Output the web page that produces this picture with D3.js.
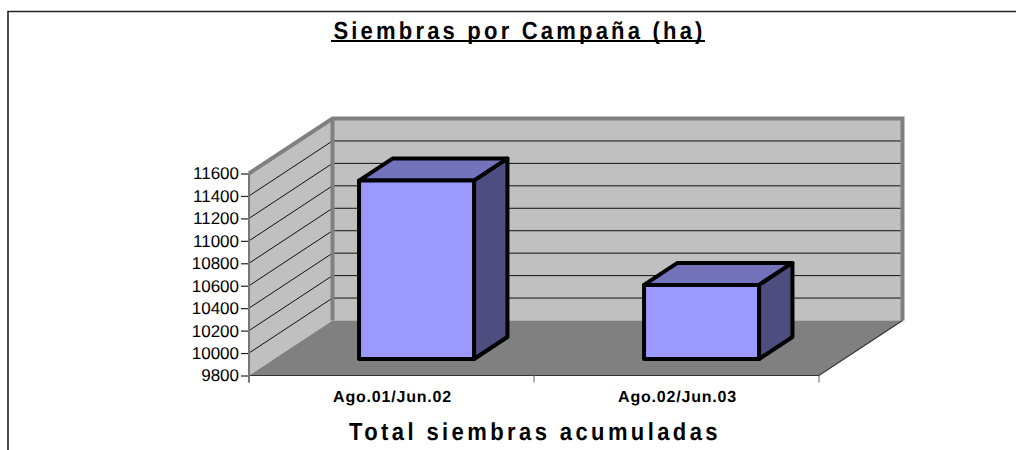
<!DOCTYPE html>
<html><head><meta charset="utf-8">
<script src="https://cdn.jsdelivr.net/npm/d3@7/dist/d3.min.js"></script>
<style>
html,body{margin:0;padding:0;background:#fff;overflow:hidden}
svg{display:block}
text{font-family:"Liberation Sans",Arial,sans-serif;fill:#000;text-rendering:geometricPrecision}
</style></head><body>
<script>
const categories = ["Ago.01/Jun.02","Ago.02/Jun.03"];
const values = [11390,10460];
const tickValues = [9800,10000,10200,10400,10600,10800,11000,11200,11400,11600];
const titleText = "Siembras por Campaña (ha)";
const axisTitle = "Total siembras acumuladas";

const W=1016,H=450;
const svg=d3.select("body").append("svg").attr("width",W).attr("height",H);

const y=d3.scaleLinear().domain([9800,11600]).range([375.5,173.5]);
const x=d3.scaleBand().domain(categories).range([249,819]).paddingInner(0).paddingOuter(0);
const depth=d3.scaleLinear().domain([0,1]).range([0,1]);
const DX=83.5, DY=-55;
// oblique projection: v = value, px = x px, z = 0 front .. 1 back
const P=(px,v,z)=>[px+DX*depth(z), y(v)+DY*depth(z)];
const line=d3.line();
const poly=pts=>line(pts)+"Z";
const [x0,x1]=x.range();
const [vMin,vMax]=y.domain();

// frame
svg.append("path").attr("d",`M8,450V11.5H1016`).attr("fill","none").attr("stroke","#222").attr("stroke-width",1.6);

// walls
const wall="#c0c0c0", edge="#808080";
svg.append("path").attr("d",poly([P(x0,vMin,1),P(x1,vMin,1),P(x1,vMax,1),P(x0,vMax,1)])).attr("fill",wall);
svg.append("path").attr("d",poly([P(x0,vMin,0),P(x0,vMin,1),P(x0,vMax,1),P(x0,vMax,0)])).attr("fill",wall);
svg.append("path").attr("d",poly([P(x0,vMin,0),P(x1,vMin,0),P(x1,vMin,1),P(x0,vMin,1)])).attr("fill","#808080");

// gridlines
tickValues.filter(t=>t>vMin&&t<vMax).forEach(t=>{
  svg.append("path").attr("d",line([P(x0,t,0),P(x0,t,1),P(x1,t,1)])).attr("fill","none").attr("stroke","#111").attr("stroke-width",1);
});

// wall edges
svg.append("path").attr("d",line([P(x0,vMax,0),P(x0,vMax,1),P(x1,vMax,1),P(x1,vMin,1)])).attr("fill","none").attr("stroke",edge).attr("stroke-width",4).attr("stroke-linejoin","miter");
svg.append("path").attr("d",line([P(x0,vMin,1),P(x0,vMax,1)])).attr("stroke",edge).attr("stroke-width",4);
svg.append("path").attr("d",line([P(x0,vMin,0),P(x1,vMin,0),P(x1,vMin,1)])).attr("fill","none").attr("stroke","#333").attr("stroke-width",1.2);

// axes
const yAxis=d3.axisLeft(y).tickValues(tickValues).tickSize(0).tickPadding(10).tickFormat(d3.format("d"));
const gy=svg.append("g").attr("transform",`translate(${x0},0)`).call(yAxis);
gy.select(".domain").remove();
gy.selectAll("text").attr("font-size",17).style("font-family",'"Liberation Sans",Arial,sans-serif').attr("fill","#000");
gy.selectAll(".tick").append("line").attr("x1",-8).attr("x2",0).attr("stroke","#222").attr("stroke-width",1.2);
svg.append("line").attr("x1",x0).attr("x2",x0).attr("y1",y(vMax)).attr("y2",y(vMin)+7).attr("stroke","#777").attr("stroke-width",2);

[x0,x0+x.step(),x1].forEach(px=>svg.append("line").attr("x1",px).attr("x2",px).attr("y1",y(vMin)).attr("y2",y(vMin)+7).attr("stroke","#777").attr("stroke-width",1.2));

svg.selectAll("text.cat").data(categories).join("text").attr("class","cat")
  .attr("x",d=>x(d)+x.bandwidth()/2+1).attr("y",401.5).attr("text-anchor","middle")
  .attr("font-size",16).attr("font-weight","bold").attr("letter-spacing","0.8").text(d=>d);

// bars
const barW=115, zA=0.3, zB=0.7;
categories.forEach((c,i)=>{
  const l=x(c)+(x.bandwidth()-barW)/2, r=l+barW, v=values[i];
  const g=svg.append("g").attr("stroke","#000").attr("stroke-width",4).attr("stroke-linejoin","round");
  g.append("path").attr("d",poly([P(l,v,zA),P(r,v,zA),P(r,v,zB),P(l,v,zB)])).attr("fill","#7373bb");
  g.append("path").attr("d",poly([P(r,vMin,zA),P(r,vMin,zB),P(r,v,zB),P(r,v,zA)])).attr("fill","#4d4d80");
  g.append("path").attr("d",poly([P(l,vMin,zA),P(r,vMin,zA),P(r,v,zA),P(l,v,zA)])).attr("fill","#9999ff");
});

// titles (glyphs in the reference are slightly taller than wide)
svg.append("text").attr("transform","translate(519.5,39) scale(1,1.12)").attr("text-anchor","middle").attr("font-size",22).attr("font-weight","bold")
  .attr("letter-spacing","3.2").text(titleText);
svg.append("line").attr("x1",331).attr("x2",705).attr("y1",41).attr("y2",41).attr("stroke","#000").attr("stroke-width",2);
svg.append("text").attr("transform","translate(535,440) scale(1,1.12)").attr("text-anchor","middle").attr("font-size",22).attr("font-weight","bold")
  .attr("letter-spacing","3.4").text(axisTitle);
</script>
</body></html>
